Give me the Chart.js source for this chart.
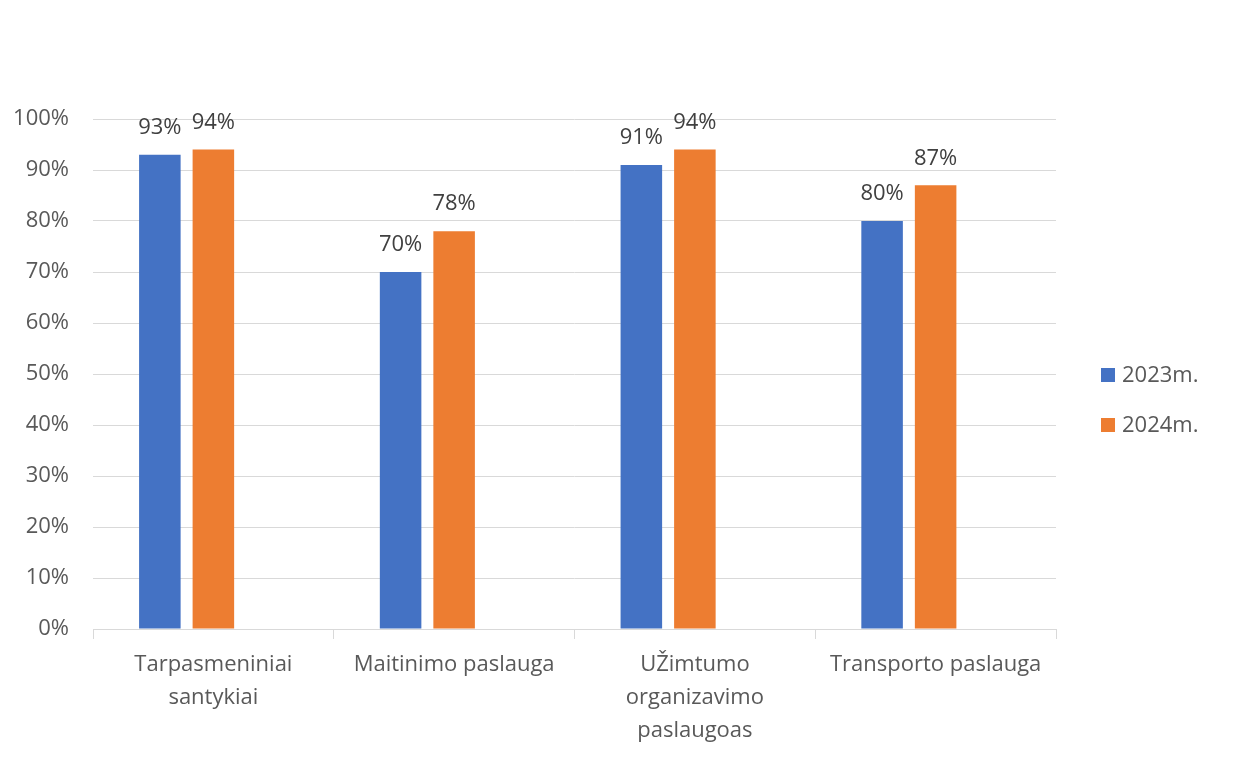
<!DOCTYPE html>
<html>
<head>
<meta charset="utf-8">
<script src="https://cdn.jsdelivr.net/npm/chart.js@4.4.1/dist/chart.umd.min.js"></script>
<style>
  html, body { margin: 0; padding: 0; background: #ffffff; }
  #wrap { width: 1235px; height: 760px; }
</style>
</head>
<body>
<div id="wrap"><canvas id="chart" width="1235" height="760"></canvas></div>
<script>
// ================= DUOMENYS =================
const categories = [
    ["Tarpasmeniniai", "santykiai"],
    ["Maitinimo paslauga"],
    ["UŽimtumo", "organizavimo", "paslaugoas"],
    ["Transporto paslauga"]
];
const values2023 = [93, 70, 91, 80];
const values2024 = [94, 78, 94, 87];
const seriesLabels = ["2023m.", "2024m."];
const seriesColors = ["#4472C4", "#ED7D31"];
const yTicks = [0, 10, 20, 30, 40, 50, 60, 70, 80, 90, 100];

const FONT = "'Open Sans', 'Liberation Sans', sans-serif";
const TEXT = "#595959";
const GRID = "#D9D9D9";

// ================= ETIKETĖS VIRŠ STULPELIŲ =================
const valueLabels = {
    id: "valueLabels",
    afterDatasetsDraw(chart) {
        const c = chart.ctx;
        c.save();
        c.font = "22px " + FONT;
        c.fillStyle = "#404040";
        c.textAlign = "center";
        c.textBaseline = "middle";
        [0, 1].forEach(i => {
            const meta = chart.getDatasetMeta(i);
            meta.data.forEach((bar, j) => {
                c.fillText(chart.data.datasets[i].data[j] + "%", bar.x, bar.y - 27);
            });
        });
        c.restore();
    }
};

// ================= LEGENDA =================
const sideLegend = {
    id: "sideLegend",
    afterDraw(chart) {
        const c = chart.ctx;
        c.save();
        c.font = "22px " + FONT;
        c.textBaseline = "middle";
        seriesLabels.forEach((lbl, i) => {
            const y = 375 + i * 50;
            c.fillStyle = seriesColors[i];
            c.fillRect(1101, y - 7, 14, 14);
            c.fillStyle = TEXT;
            c.fillText(lbl, 1122, y + 1);
        });
        c.restore();
    }
};

// ================= GRAFIKAS =================
const chart = new Chart(document.getElementById("chart"), {
    type: "bar",
    data: {
        labels: categories,
        datasets: [
            { label: seriesLabels[0], data: values2023, backgroundColor: seriesColors[0] },
            { label: seriesLabels[1], data: values2024, backgroundColor: seriesColors[1] },
            { label: "", data: categories.map(() => null), backgroundColor: "transparent" }
        ]
    },
    options: {
        responsive: false,
        animation: false,
        layout: { padding: { top: 119, right: 179, bottom: 0, left: 0 } },
        datasets: {
            bar: { categoryPercentage: 0.667, barPercentage: 0.776 }
        },
        plugins: {
            legend: { display: false },
            tooltip: { enabled: false }
        },
        scales: {
            x: {
                grid: {
                    offset: true,
                    drawOnChartArea: false,
                    drawTicks: true,
                    tickLength: 10,
                    color: GRID
                },
                border: { color: GRID, width: 1 },
                ticks: {
                    color: TEXT,
                    font: { family: FONT, size: 22, lineHeight: 1.5 },
                    padding: 9,
                    maxRotation: 0,
                    autoSkip: false
                },
                afterFit(s) { s.height = 131; }
            },
            y: {
                min: 0,
                max: 100,
                afterBuildTicks(s) { s.ticks = yTicks.map(v => ({ value: v })); },
                grid: { color: GRID, drawTicks: false },
                border: { display: false },
                ticks: {
                    color: TEXT,
                    font: { family: FONT, size: 22 },
                    padding: 24,
                    callback: v => v + "%"
                },
                afterFit(s) { s.width = 93; }
            }
        }
    },
    plugins: [valueLabels, sideLegend]
});
</script>
</body>
</html>
